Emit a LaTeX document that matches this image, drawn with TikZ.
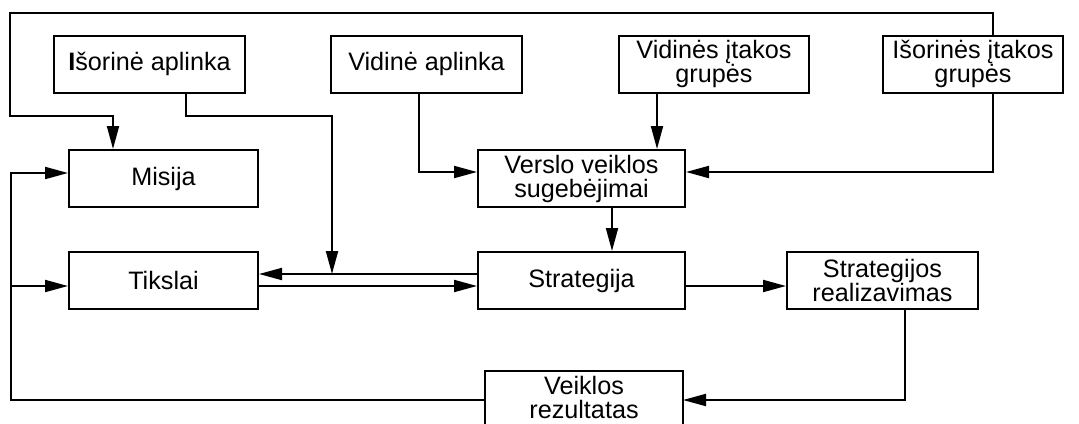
\documentclass[tikz,border=0pt]{standalone}
\usepackage{fontspec}
\setmainfont{Liberation Sans}
\usetikzlibrary{arrows.meta}
\begin{document}
\begin{tikzpicture}[x=0.5pt,y=-0.5pt,
  box/.style={draw, line width=1pt, inner sep=0pt, align=center,
    minimum height=28.5pt, font=\fontsize{12.6}{12}\selectfont},
  arr/.style={line width=1pt, -{Triangle[length=11.5pt,width=6pt]}},
  ln/.style={line width=1pt}]
\clip (0,0) rectangle (1079,423);
% boxes
\node[box, minimum width=95.5pt] (ia)  at (149.5,64) {{\bfseries I}šorinė aplinka};
\node[box, minimum width=95.5pt] (va)  at (426.5,64) {Vidinė aplinka};
\node[box, minimum width=95pt]   (vig) at (714,64) {Vidinės įtakos\\grupės};
\node[box, minimum width=90pt]   (iig) at (973,64) {Išorinės įtakos\\grupės};
\node[box, minimum width=94.5pt] (mis) at (163.5,178.5) {Misija};
\node[box, minimum width=103.5pt] (vvs) at (581.5,178.5) {Verslo veiklos\\sugebėjimai};
\node[box, minimum width=94.5pt] (tik) at (163.5,280.5) {Tikslai};
\node[box, minimum width=103.5pt] (str) at (581.5,280.5) {Strategija};
\node[box, minimum width=95.5pt] (sr)  at (882.5,280.5) {Strategijos\\realizavimas};
\node[box, draw=none, minimum width=98pt, minimum height=25.5pt] (vr) at (584,397.5) {Veiklos\\rezultatas};
\draw[ln] (vr.south west) -- (vr.north west) -- (vr.north east) -- (vr.south east);
% bend points
\coordinate (t1) at (993,13);
\coordinate (t2) at (10,13);
\coordinate (t3) at (10,116);
\coordinate (t4) at (113,116);
\coordinate (b1) at (186,116);
\coordinate (b2) at (332,116);
\coordinate (b3) at (332,274);
\coordinate (c1) at (419,172);
\coordinate (d1) at (657,0);
\coordinate (e1) at (993,172);
\coordinate (f1) at (612,0);
\coordinate (g1) at (0,274);
\coordinate (h1) at (0,286);
\coordinate (j1) at (905,400);
\coordinate (k1) at (11,400);
\coordinate (k2) at (11,173);
\coordinate (k3) at (11,286);
% connectors
\draw[arr] (t1 |- iig.north) -- (t1) -- (t2) -- (t3) -- (t4) -- (t4 |- mis.north);
\draw[arr] (b1 |- ia.south) -- (b1) -- (b2) -- (b3);
\draw[arr] (c1 |- va.south) -- (c1) -- (c1 -| vvs.west);
\draw[arr] (d1 |- vig.south) -- (d1 |- vvs.north);
\draw[arr] (e1 |- iig.south) -- (e1) -- (e1 -| vvs.east);
\draw[arr] (f1 |- vvs.south) -- (f1 |- str.north);
\draw[arr] (g1 -| str.west) -- (g1 -| tik.east);
\draw[arr] (h1 -| tik.east) -- (h1 -| str.west);
\draw[arr] (h1 -| str.east) -- (h1 -| sr.west);
\draw[arr] (j1 |- sr.south) -- (j1) -- (j1 -| vr.east);
\draw[arr] (k1 -| vr.west) -- (k1) -- (k2) -- (k2 -| mis.west);
\draw[arr] (k3) -- (k3 -| tik.west);
\end{tikzpicture}
\end{document}
